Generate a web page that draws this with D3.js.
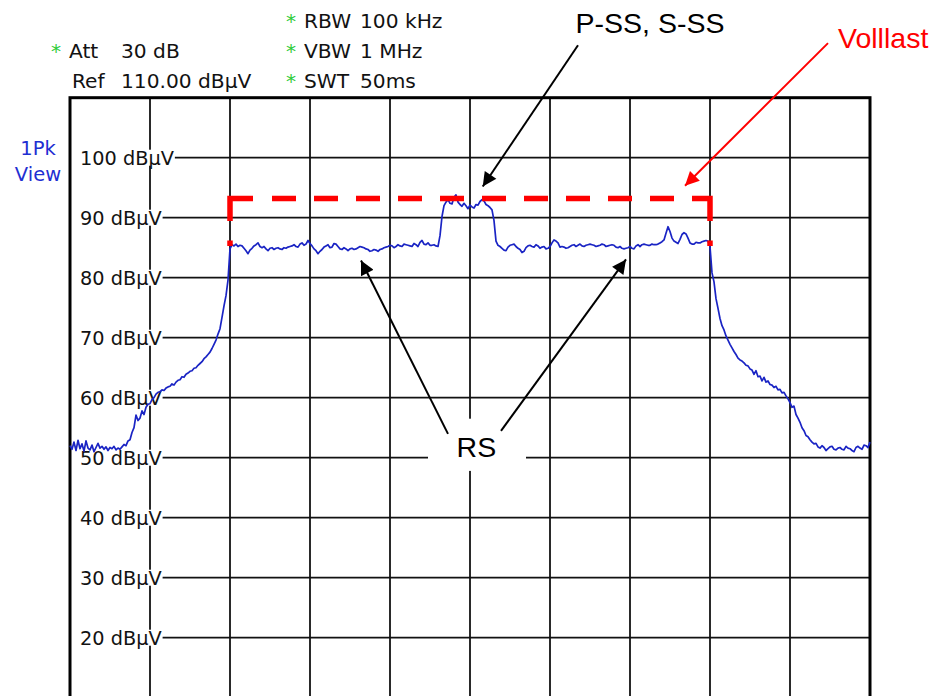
<!DOCTYPE html>
<html>
<head>
<meta charset="utf-8">
<script src="https://cdn.jsdelivr.net/npm/d3@7"></script>
<style>
  html, body { margin: 0; padding: 0; background: #ffffff; }
  svg { display: block; }
</style>
</head>
<body>
<svg id="chart" width="935" height="696"></svg>
<script>
// ---------------- DATA ----------------
// x axis: 10 screen divisions of the analyzer span; y axis: level in dBµV
const xDomain = [0, 10];
const yDomain = [10, 110];            // Ref 110 dBµV, 10 dB/div
const xGridDivs = [1, 2, 3, 4, 5, 6, 7, 8, 9];
const yTickLevels = [100, 90, 80, 70, 60, 50, 40, 30, 20];
const yTickLabels = ["100 dBµV", "90 dBµV", "80 dBµV", "70 dBµV", "60 dBµV", "50 dBµV", "40 dBµV", "30 dBµV", "20 dBµV"];

// header of the analyzer screen
const headerLeft = [
  { star: true,  name: "Att", value: "30 dB" },
  { star: false, name: "Ref", value: "110.00 dBµV" }
];
const headerRight = [
  { name: "RBW", value: "100 kHz" },
  { name: "VBW", value: "1 MHz" },
  { name: "SWT", value: "50ms" }
];
const traceLabel = ["1Pk", "View"];

// measured trace (1Pk View), one value every 0.025 div, from div 0 to div 10
const traceStepDiv = 0.025;
const traceLevels = [
  // skirt left (div 0 .. 0.65)
  52.0, 51.4, 52.6, 51.2, 52.9, 51.5, 52.3, 51.1, 52.8, 51.6, 51.3, 52.1, 51.0, 51.7, 52.4, 51.6, 51.9, 51.4, 51.8, 51.2, 51.7, 51.5, 51.9, 51.3, 51.6, 51.4, 51.8,
  // rising edge
  52.2, 52.0, 52.8, 53.0, 54.2, 55.0, 57.1, 56.2, 56.6, 57.8,
  57.2, 58.4, 58.9, 59.0, 59.7, 60.0, 60.6, 60.9, 61.0, 61.3,
  61.2, 61.6, 61.8, 61.9, 62.3, 62.1, 62.6, 62.9, 63.0, 63.5,
  63.4, 63.9, 64.1, 64.4, 64.5, 64.9, 65.0, 65.4, 65.7, 66.0,
  66.5, 66.8, 67.2, 67.6, 68.2, 68.9, 69.6, 70.6, 71.5, 73.4,
  75.3, 77.0, 79.6, 84.8,
  // occupied band, left half (RS)
  85.5, 85.3, 85.6, 85.2, 85.4, 85.3, 84.9, 84.5, 84.0, 84.6,
  84.9, 85.3, 85.5, 85.8, 85.2, 85.0, 85.2, 84.8, 84.5, 84.9,
  85.0, 84.7, 84.9, 85.0, 84.8, 84.7, 85.0, 84.9, 85.1, 85.2,
  85.3, 85.5, 85.2, 85.1, 85.6, 85.8, 85.4, 85.6, 86.2, 85.7,
  85.3, 84.8, 84.5, 84.0, 84.4, 84.7, 85.1, 85.3, 85.5, 85.0,
  85.1, 85.7, 85.6, 85.2, 84.8, 84.7, 85.0, 84.8, 84.5, 84.8,
  84.9, 84.7, 84.8, 85.0, 85.2, 85.1, 85.0, 84.8, 84.7, 84.4,
  84.5, 84.7, 84.6, 84.4, 84.7, 84.8, 85.0, 85.1, 85.2, 85.4,
  85.3, 85.0, 85.2, 85.5, 85.3, 85.2, 85.6, 85.5, 85.4, 85.3,
  85.2, 85.7, 85.5, 85.2, 85.9, 86.2, 85.6, 85.5, 85.8, 85.4,
  85.4, 85.5, 85.3, 85.2, 87.0,
  // P-SS / S-SS block
  90.2, 92.0, 92.6, 93.0, 92.4, 92.3, 93.4, 93.8, 92.6, 92.2,
  91.9, 92.4, 92.0, 91.5, 92.1, 91.8, 91.6, 92.2, 92.1, 92.7,
  93.0, 92.8, 92.2, 92.0, 91.7, 91.3, 89.5, 86.1, 85.4, 85.2,
  // occupied band, right half (RS)
  84.9, 84.6, 84.5, 85.1, 85.4, 85.5, 85.6, 85.2, 84.9, 84.7,
  84.2, 84.4, 85.0, 85.3, 85.4, 85.2, 85.1, 85.5, 85.3, 84.9,
  85.1, 85.2, 84.8, 84.9, 85.2, 85.8, 86.3, 86.1, 85.8, 85.1,
  85.2, 85.1, 84.9, 85.0, 85.2, 85.4, 85.5, 85.2, 85.4, 85.6,
  85.3, 85.2, 85.4, 85.5, 85.6, 85.5, 85.4, 85.2, 85.3, 85.4,
  85.6, 85.5, 85.2, 85.3, 85.4, 85.5, 85.4, 85.1, 85.0, 85.2,
  84.9, 84.8, 84.9, 85.0, 85.2, 84.9, 84.8, 85.3, 85.5, 85.2,
  85.5, 85.6, 85.5, 85.4, 85.4, 85.6, 85.5, 85.5, 85.6, 85.8,
  86.0, 86.3, 87.4, 88.5, 87.7, 86.6, 86.1, 85.9, 85.7, 86.4,
  87.2, 87.5, 87.3, 86.6, 85.8, 85.6, 85.6, 85.9, 85.8, 85.8,
  86.0, 86.1, 86.2, 86.1,
  // falling edge and skirt right
  85.2, 80.8, 79.3, 76.5, 74.9, 73.2, 72.0, 71.3, 70.3, 69.6,
  68.9, 68.3, 67.7, 67.2, 66.6, 66.3, 66.1, 65.8, 65.4, 65.3,
  64.8, 64.6, 63.9, 64.5, 63.5, 63.6, 62.8, 63.4, 62.6, 62.8,
  62.2, 62.1, 61.7, 61.9, 61.3, 61.4, 60.8, 60.9, 60.3, 59.8,
  59.2, 58.4, 58.6, 57.2, 56.6, 55.9, 55.0, 54.5, 53.7, 53.5,
  53.0, 52.6, 52.3, 52.4, 51.8, 51.6, 52.0, 51.7, 51.2, 51.5,
  51.8, 51.9, 51.4, 51.3, 51.6, 51.7, 51.4, 51.3, 51.9, 51.6,
  51.5, 51.2, 51.0, 51.7, 51.9, 51.6, 51.4, 52.1, 52.0, 51.7,
  52.6
];

// "Volllast" (full load) envelope
const volllast = { fromDiv: 2, toDiv: 8, level: 93.2, base: 85.3 };

// annotations: text anchors and arrows in data coordinates [div, dBµV]
const annotTexts = [
  { text: "P-SS, S-SS", at: [7.25, 120.75], anchor: "middle", color: "#000000" },
  { text: "Volllast",   at: [9.6, 118.3],   anchor: "start",  color: "#ff0000" },
  { text: "RS",         at: [5.08, 50.15],  anchor: "middle", color: "#000000" }
];
const rsBox = { x0: 4.475, x1: 5.7, y0: 56.5, y1: 47.8 };
const annotArrows = [
  { from: [6.35, 118.75],  to: [5.159, 95.2],  color: "#000000" },
  { from: [9.475, 119.1],  to: [7.6875, 95.33], color: "#ff0000" },
  { from: [4.725, 53.97],  to: [3.6375, 82.87], color: "#000000" },
  { from: [5.3875, 54.47], to: [6.95, 83.04],  color: "#000000" }
];

// ---------------- DRAW ----------------
const svg = d3.select("#chart");
const x = d3.scaleLinear().domain(xDomain).range([70, 870]);
const y = d3.scaleLinear().domain(yDomain).range([697.7, 97.7]);

const INK = "#121212";
const MONO = "'DejaVu Sans', Verdana, sans-serif";
const ARIAL = "'Liberation Sans', Arial, sans-serif";

// vertical gridlines
svg.append("g").selectAll("line").data(xGridDivs).join("line")
  .attr("x1", d => x(d)).attr("x2", d => x(d))
  .attr("y1", y(yDomain[1])).attr("y2", y(yDomain[0]) + 5)
  .attr("stroke", INK).attr("stroke-width", 1.8);

// horizontal gridlines
svg.append("g").selectAll("line").data(yTickLevels).join("line")
  .attr("x1", x(0)).attr("x2", x(10))
  .attr("y1", d => y(d)).attr("y2", d => y(d))
  .attr("stroke", INK).attr("stroke-width", 1.8);

// tick labels with white background (they interrupt the grid)
const tickG = svg.append("g");
yTickLevels.forEach((lev, i) => {
  const t = tickG.append("text")
    .attr("x", 80).attr("y", y(lev) + 7)
    .attr("font-family", MONO).attr("font-size", 19.3)
    .attr("fill", INK).text(yTickLabels[i]);
  const w = t.node().getComputedTextLength();
  tickG.insert("rect", "text")
    .attr("x", x(0) + 1).attr("y", y(lev) - 8)
    .attr("width", 80 + w + 1 - x(0) - 1).attr("height", 16)
    .attr("fill", "#ffffff");
});

// frame
svg.append("rect")
  .attr("x", x(0)).attr("y", y(yDomain[1]))
  .attr("width", x(10) - x(0)).attr("height", y(yDomain[0]) - y(yDomain[1]) + 10)
  .attr("fill", "none").attr("stroke", "#000").attr("stroke-width", 3);

// trace
const line = d3.line()
  .x((v, i) => x(i * traceStepDiv))
  .y(v => y(v));
svg.append("path").datum(traceLevels)
  .attr("d", line)
  .attr("fill", "none").attr("stroke", "#1a24c4").attr("stroke-width", 1.7)
  .attr("stroke-linejoin", "round");

// Volllast dashed envelope
(function () {
  const pts = [[volllast.fromDiv, volllast.base], [volllast.fromDiv, volllast.level],
               [volllast.toDiv, volllast.level], [volllast.toDiv, volllast.base]];
  const vLen = y(volllast.base) - y(volllast.level);
  const hLen = x(volllast.toDiv) - x(volllast.fromDiv);
  const stub = 5.5, stubGap = 19.5;
  const cornerV = vLen - stub - stubGap;
  const dash = 24, gap = 18, firstH = 23, firstGap = 19;
  const n = Math.floor((hLen - firstH - firstGap) / (dash + gap));
  const lastH = hLen - firstH - firstGap - n * (dash + gap);
  const arr = [stub, stubGap, cornerV + firstH, firstGap];
  for (let i = 0; i < n; i++) { arr.push(dash, gap); }
  arr.pop(); arr.push(gap);
  arr.push(lastH + cornerV, stubGap, stub, 20);
  svg.append("path")
    .attr("d", d3.line().x(d => x(d[0])).y(d => y(d[1]))(pts))
    .attr("fill", "none").attr("stroke", "#ff0000").attr("stroke-width", 5.5)
    .attr("stroke-linejoin", "miter")
    .attr("stroke-dasharray", arr.join(","));
})();

// RS label box
svg.append("rect")
  .attr("x", x(rsBox.x0)).attr("y", y(rsBox.y0))
  .attr("width", x(rsBox.x1) - x(rsBox.x0)).attr("height", y(rsBox.y1) - y(rsBox.y0))
  .attr("fill", "#ffffff");

// arrows
const defs = svg.append("defs");
["#000000", "#ff0000"].forEach((c, i) => {
  defs.append("marker")
    .attr("id", "ah" + i).attr("viewBox", "0 0 10 10")
    .attr("refX", 10).attr("refY", 5)
    .attr("markerUnits", "userSpaceOnUse")
    .attr("markerWidth", 17).attr("markerHeight", 14)
    .attr("orient", "auto")
    .append("path").attr("d", "M0,0 L10,5 L0,10 Z").attr("fill", c);
});
svg.append("g").selectAll("line").data(annotArrows).join("line")
  .attr("x1", d => x(d.from[0])).attr("y1", d => y(d.from[1]))
  .attr("x2", d => x(d.to[0])).attr("y2", d => y(d.to[1]))
  .attr("stroke", d => d.color).attr("stroke-width", 2)
  .attr("marker-end", d => d.color === "#ff0000" ? "url(#ah1)" : "url(#ah0)");

// annotation texts
svg.append("g").selectAll("text").data(annotTexts).join("text")
  .attr("x", d => x(d.at[0])).attr("y", d => y(d.at[1]))
  .attr("text-anchor", d => d.anchor)
  .attr("font-family", ARIAL).attr("font-size", 28.5)
  .attr("fill", d => d.color).text(d => d.text);

// analyzer header
const hdr = svg.append("g").attr("font-family", MONO).attr("font-size", 20.2).attr("fill", INK);
const STAR = "#2ecc3a";
headerLeft.forEach((h, i) => {
  const by = 58 + i * 30;
  if (h.star) hdr.append("text").attr("x", 51).attr("y", by).attr("fill", STAR).text("*");
  hdr.append("text").attr("x", i === 0 ? 69 : 72).attr("y", by).text(h.name);
  hdr.append("text").attr("x", 121).attr("y", by).text(h.value);
});
headerRight.forEach((h, i) => {
  const by = 28 + i * 30;
  hdr.append("text").attr("x", 286).attr("y", by).attr("fill", STAR).text("*");
  hdr.append("text").attr("x", 304).attr("y", by).text(h.name);
  hdr.append("text").attr("x", 360).attr("y", by).text(h.value);
});

// trace label
svg.append("g").selectAll("text").data(traceLabel).join("text")
  .attr("x", 38).attr("y", (d, i) => 155 + i * 26)
  .attr("text-anchor", "middle")
  .attr("font-family", MONO).attr("font-size", 19.5)
  .attr("fill", "#1f2fd2").text(d => d);
</script>
</body>
</html>
